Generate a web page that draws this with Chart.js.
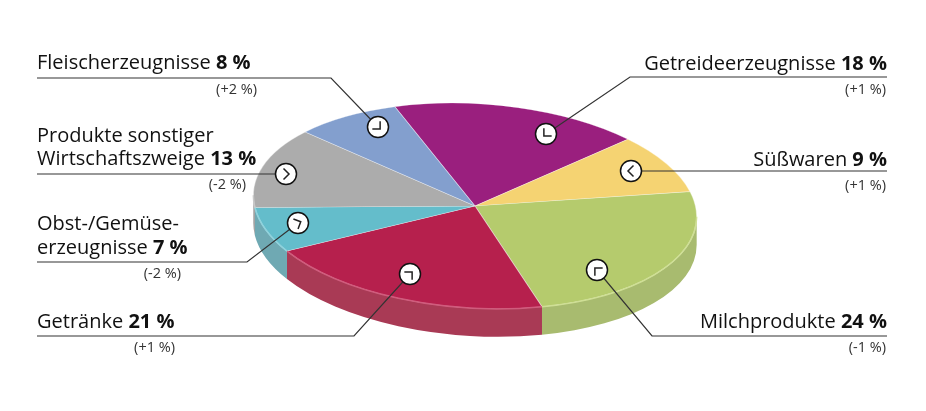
<!DOCTYPE html>
<html lang="de">
<head>
<meta charset="utf-8">
<title>Anteile</title>
<script src="https://cdn.jsdelivr.net/npm/chart.js@4"></script>
<style>
  html, body { margin: 0; padding: 0; background: #fff; }
  canvas { display: block; }
</style>
</head>
<body>
<canvas id="pie" width="926" height="411"></canvas>
<script>
// clockwise, starting at the top
var categories = [
  ['Getreideerzeugnisse'],
  ['Süßwaren'],
  ['Milchprodukte'],
  ['Getränke'],
  ['Obst-/Gemüse-', 'erzeugnisse'],
  ['Produkte sonstiger', 'Wirtschaftszweige'],
  ['Fleischerzeugnisse']
];
var shares = [18, 9, 24, 21, 7, 13, 8];
var changes = ['+1', '+1', '-1', '+1', '-2', '-2', '+2'];
var topColors = ['#9a1f7e', '#f5d372', '#b5cb6d', '#b6204d', '#64bdcb', '#acacac', '#839fce'];
var wallColors = ['#7d1a66', '#d3b662', '#a8bb6f', '#a93a55', '#6fa9b3', '#999999', '#6f87ae'];
var rimColors = ['#b04a98', '#fae39c', '#cfdf95', '#d05c7d', '#8fd2dc', '#c8c8c8', '#a5bbdd'];

// pie projection
var centerX = 475, centerY = 206, radiusX = 222, squash = 0.46, depth = 28;
var tilt = 3.5 * Math.PI / 180;

// annotation layout, same order as categories
var labelFont = '"Open Sans", sans-serif';
var labelSize = 20, deltaSize = 14.5;
var callouts = [
  { align: 'right', textX: 887, baselines: [70], deltaX: 886, deltaY: 94, circle: [546, 134], corner: 135, line: [[630, 77], [887, 77]] },
  { align: 'right', textX: 887, baselines: [166], deltaX: 886, deltaY: 190, circle: [631, 171], corner: 180, line: [[887, 171]] },
  { align: 'right', textX: 887, baselines: [328], deltaX: 886, deltaY: 352, circle: [597, 270], corner: 225, line: [[652, 336], [887, 336]] },
  { align: 'left', textX: 37, baselines: [328], deltaX: 175, deltaY: 352, circle: [410, 274], corner: 315, line: [[354, 336], [37, 336]] },
  { align: 'left', textX: 37, baselines: [230, 254], deltaX: 181, deltaY: 278, circle: [298, 223], corner: 335, line: [[247, 262], [37, 262]] },
  { align: 'left', textX: 37, baselines: [142, 165], deltaX: 246, deltaY: 189, circle: [286, 174], corner: 0, line: [[37, 174]] },
  { align: 'left', textX: 37, baselines: [69], deltaX: 257, deltaY: 94, circle: [378, 127], corner: 45, line: [[331, 78], [37, 78]] }
];

function visibleRange(start, end, from, to) {
  // slice range intersected with the front half, checked over full turns
  for (var k = -1; k <= 1; k++) {
    var a = Math.max(start + k * 2 * Math.PI, from);
    var b = Math.min(end + k * 2 * Math.PI, to);
    if (b > a) return [a, b];
  }
  return null;
}

function frontRange() {
  var t0 = Math.atan(-squash * Math.tan(tilt));
  return [t0, t0 + Math.PI];
}

function drawWalls(chart) {
  var ctx = chart.ctx;
  var front = frontRange();
  var ry = radiusX * squash;
  chart.getDatasetMeta(0).data.forEach(function (arc, i) {
    var r = visibleRange(arc.startAngle, arc.endAngle, front[0], front[1]);
    if (!r) return;
    ctx.beginPath();
    ctx.ellipse(centerX, centerY, radiusX, ry, tilt, r[0], r[1]);
    ctx.ellipse(centerX, centerY + depth, radiusX, ry, tilt, r[1], r[0], true);
    ctx.closePath();
    ctx.fillStyle = wallColors[i];
    ctx.fill();
  });
}

function drawRim(chart) {
  var ctx = chart.ctx;
  var front = frontRange();
  chart.getDatasetMeta(0).data.forEach(function (arc, i) {
    var r = visibleRange(arc.startAngle, arc.endAngle, front[0], front[1]);
    if (!r) return;
    ctx.beginPath();
    ctx.ellipse(centerX, centerY, radiusX, radiusX * squash, tilt, r[0], r[1]);
    ctx.strokeStyle = rimColors[i];
    ctx.lineWidth = 1.5;
    ctx.stroke();
  });
}

function drawCallout(ctx, c, i) {
  // leader
  ctx.beginPath();
  ctx.moveTo(c.circle[0], c.circle[1]);
  c.line.forEach(function (p) { ctx.lineTo(p[0], p[1]); });
  ctx.strokeStyle = '#333';
  ctx.lineWidth = 1.2;
  ctx.stroke();

  // marker with its small corner
  ctx.beginPath();
  ctx.arc(c.circle[0], c.circle[1], 10.5, 0, Math.PI * 2);
  ctx.fillStyle = '#fff';
  ctx.fill();
  ctx.strokeStyle = '#111';
  ctx.lineWidth = 1.5;
  ctx.stroke();

  ctx.save();
  ctx.translate(c.circle[0], c.circle[1]);
  ctx.rotate(c.corner * Math.PI / 180);
  ctx.beginPath();
  ctx.moveTo(-2.5, -5.5);
  ctx.lineTo(3, 0);
  ctx.lineTo(-2.5, 5.5);
  ctx.strokeStyle = '#222';
  ctx.lineWidth = 1.5;
  ctx.stroke();
  ctx.restore();

  // name and share
  var lines = categories[i];
  var value = ' ' + shares[i] + ' %';
  ctx.fillStyle = '#111';
  ctx.textBaseline = 'alphabetic';
  lines.forEach(function (text, n) {
    var last = n === lines.length - 1;
    ctx.font = labelSize + 'px ' + labelFont;
    var w1 = ctx.measureText(text).width;
    ctx.font = 'bold ' + labelSize + 'px ' + labelFont;
    var w2 = last ? ctx.measureText(value).width : 0;
    var x = c.align === 'right' ? c.textX - w1 - w2 : c.textX;
    ctx.textAlign = 'left';
    ctx.font = labelSize + 'px ' + labelFont;
    ctx.fillText(text, x, c.baselines[n]);
    if (last) {
      ctx.font = 'bold ' + labelSize + 'px ' + labelFont;
      ctx.fillText(value, x + w1, c.baselines[n]);
    }
  });

  // change against the previous period
  ctx.font = deltaSize + 'px ' + labelFont;
  ctx.fillStyle = '#333';
  ctx.textAlign = 'right';
  ctx.fillText('(' + changes[i] + ' %)', c.deltaX, c.deltaY);
}

var pie3d = {
  id: 'pie3d',
  beforeDatasetsDraw: function (chart) {
    var ctx = chart.ctx;
    drawWalls(chart);
    ctx.save();
    ctx.translate(centerX, centerY);
    ctx.rotate(tilt);
    ctx.scale(1, squash);
    ctx.translate(-chart.getDatasetMeta(0).data[0].x, -chart.getDatasetMeta(0).data[0].y);
  },
  afterDatasetsDraw: function (chart) {
    chart.ctx.restore();
    drawRim(chart);
  },
  afterDraw: function (chart) {
    callouts.forEach(function (c, i) { drawCallout(chart.ctx, c, i); });
  }
};

new Chart(document.getElementById('pie').getContext('2d'), {
  type: 'pie',
  data: {
    labels: categories.map(function (c) { return c.join(' '); }),
    datasets: [{
      data: shares,
      backgroundColor: topColors,
      borderColor: 'rgba(255,255,255,0.4)',
      borderWidth: 1.2,
      clip: false
    }]
  },
  options: {
    responsive: false,
    animation: false,
    events: [],
    rotation: -22.8,
    radius: radiusX,
    plugins: {
      legend: { display: false },
      tooltip: { enabled: false },
      title: { display: false }
    }
  },
  plugins: [pie3d]
});
</script>
</body>
</html>
